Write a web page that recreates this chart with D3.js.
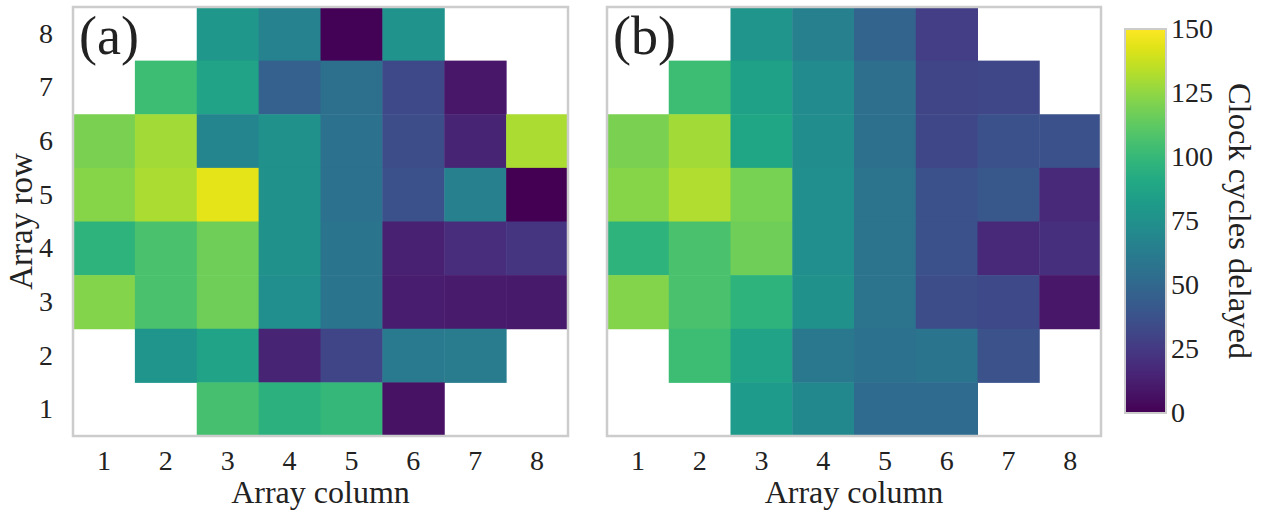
<!DOCTYPE html>
<html>
<head>
<meta charset="utf-8">
<script src="https://cdn.jsdelivr.net/npm/d3@7"></script>
<style>
  html, body { margin: 0; padding: 0; background: #fff; }
  svg { display: block; }
  text { font-family: "Liberation Serif", "Times New Roman", serif; fill: #222; }
</style>
</head>
<body>
<svg id="chart" width="1265" height="512"></svg>
<script>
// Grid labels
const columns = [1, 2, 3, 4, 5, 6, 7, 8];
const rows = [8, 7, 6, 5, 4, 3, 2, 1]; // top to bottom

// Clock cycles delayed per array cell, rows listed top (8) to bottom (1); null = no cell
const delayA = [
  [null, null,  80,  66,   1,  77, null, null],
  [null,  103,  87,  46,  55,  33,    9, null],
  [ 120,  129,  68,  75,  56,  35,   15,  131],
  [ 123,  131, 144,  75,  56,  37,   65,    0],
  [  97,  107, 117,  75,  58,  14,   19,   23],
  [ 122,  107, 117,  74,  58,  12,   11,   10],
  [null,   78,  87,  15,  31,  61,   62, null],
  [null, null, 106,  96, 100,   7, null, null]
];
const delayB = [
  [null, null,  78,  65,  48,  27, null, null],
  [null,  103,  86,  72,  54,  31,   32, null],
  [ 120,  129,  89,  73,  55,  32,   37,   37],
  [ 123,  132, 119,  74,  57,  37,   41,   17],
  [  97,  107, 117,  74,  57,  37,   17,   21],
  [ 122,  107,  97,  75,  57,  35,   33,    9],
  [null,  103,  87,  60,  56,  58,   38, null],
  [null, null,  82,  70,  52,  52, null, null]
];
const colorTicks = [0, 25, 50, 75, 100, 125, 150];

const svg = d3.select("#chart");
const color = d3.scaleSequential(d3.interpolateViridis).domain([0, 150]);

const panels = [
  { data: delayA, tag: "(a)", x0: 73, x1: 568, yTicks: true },
  { data: delayB, tag: "(b)", x0: 607, x1: 1101, yTicks: false }
];
const plotTop = 7, plotBottom = 436;

panels.forEach(p => {
  const x = d3.scaleBand().domain(columns).range([p.x0, p.x1]);
  const y = d3.scaleBand().domain(rows).range([plotTop, plotBottom]);
  const g = svg.append("g");

  const cells = [];
  p.data.forEach((r, i) => r.forEach((v, j) => {
    if (v !== null) cells.push({ row: rows[i], col: columns[j], v });
  }));

  g.selectAll("rect.cell").data(cells).enter().append("rect")
    .attr("class", "cell")
    .attr("x", d => x(d.col))
    .attr("y", d => y(d.row))
    .attr("width", x.bandwidth() + 0.5)
    .attr("height", y.bandwidth() + 0.5)
    .attr("fill", d => color(d.v));

  // frame
  g.append("rect")
    .attr("x", p.x0).attr("y", plotTop)
    .attr("width", p.x1 - p.x0).attr("height", plotBottom - plotTop)
    .attr("fill", "none").attr("stroke", "#cccccc").attr("stroke-width", 2.5);

  // x axis labels
  const xAxis = d3.axisBottom(x).tickSize(0).tickPadding(0);
  const gx = g.append("g").attr("transform", `translate(0,${plotBottom + 34})`).call(xAxis);
  gx.select(".domain").remove();
  gx.selectAll("text").attr("font-size", 28).attr("fill", "#222")
    .attr("font-family", "Liberation Serif").attr("dy", 0);

  g.append("text")
    .attr("x", (p.x0 + p.x1) / 2).attr("y", 503)
    .attr("text-anchor", "middle").attr("font-size", 32)
    .text("Array column");

  if (p.yTicks) {
    const yAxis = d3.axisLeft(y).tickSize(0).tickPadding(0);
    const gy = g.append("g").attr("transform", `translate(${p.x0 - 20},0)`).call(yAxis);
    gy.select(".domain").remove();
    gy.selectAll("text").attr("font-size", 28).attr("fill", "#222")
      .attr("font-family", "Liberation Serif");

    g.append("text")
      .attr("transform", `translate(32,${(plotTop + plotBottom) / 2}) rotate(-90)`)
      .attr("text-anchor", "middle").attr("font-size", 33)
      .text("Array row");
  }

  g.append("text")
    .attr("x", p.x0 + 6).attr("y", 54)
    .attr("font-size", 54)
    .attr("fill", "#000")
    .text(p.tag);
});

// Colorbar
const cb = { x: 1125, w: 41, y0: 29, y1: 413 };
const defs = svg.append("defs");
const grad = defs.append("linearGradient").attr("id", "viridisGrad")
  .attr("x1", 0).attr("y1", 1).attr("x2", 0).attr("y2", 0);
d3.range(0, 1.0001, 0.05).forEach(t => {
  grad.append("stop").attr("offset", t).attr("stop-color", d3.interpolateViridis(t));
});
svg.append("rect")
  .attr("x", cb.x).attr("y", cb.y0).attr("width", cb.w).attr("height", cb.y1 - cb.y0)
  .attr("fill", "url(#viridisGrad)")
  .attr("stroke", "#cccccc").attr("stroke-width", 2);

const cScale = d3.scaleLinear().domain([0, 150]).range([cb.y1, cb.y0]);
const cAxis = d3.axisRight(cScale).tickValues(colorTicks).tickSize(0).tickPadding(0);
const gc = svg.append("g").attr("transform", `translate(${cb.x + cb.w + 5},0)`).call(cAxis);
gc.select(".domain").remove();
gc.selectAll("text").attr("font-size", 28).attr("fill", "#222")
  .attr("font-family", "Liberation Serif");

svg.append("text")
  .attr("transform", `translate(1229,${(cb.y0 + cb.y1) / 2}) rotate(90)`)
  .attr("text-anchor", "middle").attr("font-size", 32.5)
  .text("Clock cycles delayed");
</script>
</body>
</html>
